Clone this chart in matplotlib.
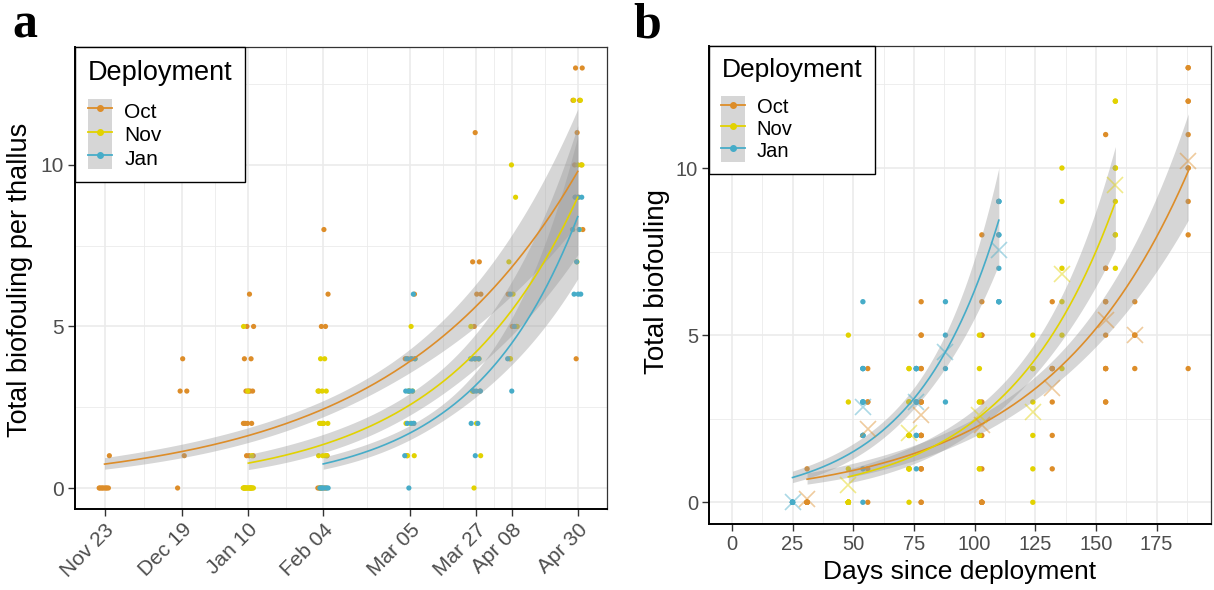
import numpy as np
import pandas as pd
import matplotlib
matplotlib.use("Agg")
import matplotlib.pyplot as plt
import matplotlib.dates as mdates
from matplotlib.lines import Line2D
from matplotlib.patches import Patch
from matplotlib.legend_handler import HandlerTuple
from matplotlib.ticker import FixedLocator, MultipleLocator

plt.rcParams["font.family"] = ["Liberation Sans", "DejaVu Sans"]

DEPLOYMENTS = ["Oct", "Nov", "Jan"]
COLORS = ["#DD8D29", "#E2D200", "#46ACC8"]
RIBBON = "#999999"

# sampling dates, days since deployment and biofouling counts per thallus
oct_dates = ["2018-11-23", "2018-12-19", "2019-01-10", "2019-02-04",
             "2019-03-05", "2019-03-27", "2019-04-08", "2019-04-30"]
oct_days = [31, 56, 78, 103, 132, 154, 166, 188]
oct_counts = [
    [0, 0, 0, 0, 0, 0, 0, 0, 1],
    [0, 1, 3, 3, 4],
    [0, 0, 1, 1, 1, 2, 2, 2, 2, 3, 3, 3, 3, 4, 4, 5, 5, 6],
    [0, 0, 0, 0, 0, 0, 1, 2, 3, 5, 5, 6, 8],
    [1, 2, 3, 4, 4, 4, 6],
    [3, 3, 4, 4, 4, 5, 6, 6, 7, 7, 11],
    [4, 5, 5, 6],
    [4, 8, 9, 10, 10, 11, 12, 12, 13, 13],
]

nov_dates = ["2019-01-10", "2019-02-04", "2019-03-05", "2019-03-27",
             "2019-04-08", "2019-04-30"]
nov_days = [48, 73, 102, 124, 136, 158]
nov_counts = [
    [0] * 14 + [1, 3, 5],
    [0, 1, 1, 1, 1, 2, 2, 2, 2, 3, 3, 3, 4, 4],
    [1, 1, 2, 2, 3, 3, 4, 5],
    [0, 1, 2, 3, 4, 4, 5],
    [4, 5, 6, 7, 9, 10],
    [7, 8, 8, 9, 10, 10, 12, 12],
]

jan_dates = ["2019-02-04", "2019-03-05", "2019-03-27", "2019-04-08",
             "2019-04-30"]
jan_days = [25, 54, 76, 88, 110]
jan_counts = [
    [0, 0, 0, 0, 0, 0],
    [0, 1, 2, 2, 2, 3, 3, 3, 3, 4, 4, 4, 6],
    [1, 2, 2, 3, 3, 3, 4, 4, 4, 4],
    [3, 4, 5, 6],
    [6, 6, 6, 7, 8, 8, 9, 9, 9],
]

# fitted log-linear trend: value at first / last sampling, and the
# half-width of the 95% band on the log scale (start, narrowest, end)
fit_date_start = [0.74, 0.77, 0.745]
fit_date_end = [9.8, 9.0, 8.4]
band_date = [(0.24, 0.09, 0.18), (0.30, 0.12, 0.22), (0.25, 0.11, 0.26)]

fit_days_start = [0.69, 0.76, 0.74]
fit_days_end = [9.9, 8.98, 8.44]
band_days = [(0.24, 0.10, 0.16), (0.27, 0.11, 0.17), (0.23, 0.10, 0.17)]

dates = [oct_dates, nov_dates, jan_dates]
days = [oct_days, nov_days, jan_days]
counts = [oct_counts, nov_counts, jan_counts]

TICK_GREY = "#4D4D4D"
GRID = "#EBEBEB"


def expand(lo, hi, mult=0.05):
    pad = (hi - lo) * mult
    return lo - pad, hi + pad


def trend(x0, x1, y0, y1, band, n=200):
    x = np.linspace(x0, x1, n)
    u = (x - x0) / (x1 - x0)
    mu = np.exp(np.log(y0) + u * (np.log(y1) - np.log(y0)))
    c0, cm, c1 = band
    d0 = np.sqrt(c0 ** 2 - cm ** 2)
    d1 = np.sqrt(c1 ** 2 - cm ** 2)
    uc = d0 / (d0 + d1)
    k = d0 + d1
    half = np.sqrt(cm ** 2 + (k * (u - uc)) ** 2)
    return x, mu, mu * np.exp(-half), mu * np.exp(half)


def spread(n, width, phase):
    i = np.arange(n)
    return width * (2 * ((i * 0.618034 + phase) % 1.0) - 1)


def style_axes(ax, tick_size):
    ax.set_facecolor("white")
    ax.grid(True, which="major", color=GRID, lw=1.2, zorder=0)
    ax.grid(True, which="minor", color=GRID, lw=0.6, zorder=0)
    ax.set_axisbelow(True)
    for side in ["left", "bottom"]:
        ax.spines[side].set_color("black")
        ax.spines[side].set_linewidth(1.4)
    for side in ["top", "right"]:
        ax.spines[side].set_color("#333333")
        ax.spines[side].set_linewidth(0.9)
    ax.tick_params(which="major", length=5, width=1, color="#333333",
                   labelsize=tick_size, labelcolor=TICK_GREY, pad=3)
    ax.tick_params(which="minor", length=0)
    ax.set_yticks([0, 5, 10])
    ax.yaxis.set_minor_locator(MultipleLocator(2.5))


def add_legend(ax, title_size, label_size, key_h):
    handles = []
    for c in COLORS:
        key_bg = Patch(facecolor=RIBBON, alpha=0.4, edgecolor="none")
        key_line = Line2D([], [], color=c, lw=1.3, marker="o", ms=4)
        handles.append((key_bg, key_line))
    leg = ax.legend(handles, DEPLOYMENTS, loc="upper left",
                    bbox_to_anchor=(0, 1), borderaxespad=0,
                    handler_map={tuple: HandlerTuple(ndivide=1, pad=0)},
                    title="Deployment", title_fontsize=title_size,
                    fontsize=label_size, handlelength=1.15,
                    handleheight=key_h, handletextpad=0.6,
                    labelspacing=0.0, borderpad=0.62,
                    fancybox=False, framealpha=1, edgecolor="black",
                    alignment="left")
    leg.get_frame().set_linewidth(1.0)
    # extra room between the title and the keys
    leg._legend_box.sep = 9.5
    leg.set_zorder(10)


def panel_dates(ax):
    tick_dates = pd.to_datetime(oct_dates)
    tick_nums = mdates.date2num(tick_dates)
    all_x = []
    for k in range(3):
        xs = mdates.date2num(pd.to_datetime(dates[k]))
        for j, vals in enumerate(counts[k]):
            x = xs[j] + spread(len(vals), 1.8, 0.17 * k + 0.05 * j)
            all_x.extend(x)
            ax.scatter(x, vals, s=14, color=COLORS[k], edgecolors="none",
                       zorder=2)
    for k in range(3):
        xs = mdates.date2num(pd.to_datetime(dates[k]))
        x, mu, lo, hi = trend(xs[0], xs[-1], fit_date_start[k],
                              fit_date_end[k], band_date[k])
        ax.fill_between(x, lo, hi, color=RIBBON, alpha=0.4, lw=0, zorder=3)
        ax.plot(x, mu, color=COLORS[k], lw=1.2, zorder=4)

    ax.set_xlim(*expand(min(all_x), max(all_x)))
    ax.set_ylim(*expand(0, 13))
    ax.xaxis.set_major_locator(FixedLocator(tick_nums))
    ax.xaxis.set_minor_locator(FixedLocator((tick_nums[:-1] + tick_nums[1:]) / 2))
    ax.xaxis.set_major_formatter(mdates.DateFormatter("%b %d"))
    style_axes(ax, 15)
    for lab in ax.get_xticklabels():
        lab.set_rotation(45)
        lab.set_ha("right")
        lab.set_va("top")
        lab.set_rotation_mode("anchor")
    add_legend(ax, 19.5, 15, 1.35)


def panel_days(ax):
    for k in range(3):
        for j, vals in enumerate(counts[k]):
            ax.scatter([days[k][j]] * len(vals), vals, s=15, color=COLORS[k],
                       edgecolors="none", zorder=2)
    for k in range(3):
        d = days[k]
        x, mu, lo, hi = trend(d[0], d[-1], fit_days_start[k],
                              fit_days_end[k], band_days[k])
        ax.fill_between(x, lo, hi, color=RIBBON, alpha=0.4, lw=0, zorder=3)
        ax.plot(x, mu, color=COLORS[k], lw=1.2, zorder=4)
        means = [np.mean(v) for v in counts[k]]
        ax.plot(d, means, ls="none", marker="x", ms=11, mew=1.2,
                color=COLORS[k], alpha=0.45, zorder=5)

    ax.set_xlim(*expand(0, max(oct_days)))
    ax.set_ylim(*expand(0, 13))
    ax.set_xticks(np.arange(0, 176, 25))
    ax.xaxis.set_minor_locator(MultipleLocator(12.5))
    style_axes(ax, 14.5)
    add_legend(ax, 19, 14.5, 1.3)


def main():
    fig = plt.figure(figsize=(12.14, 5.9), dpi=100)
    W, H = 1214, 590
    ax_a = fig.add_axes([75 / W, 1 - 509 / H, 532 / W, 462 / H])
    ax_b = fig.add_axes([709 / W, 1 - 524 / H, 502 / W, 478 / H])

    panel_dates(ax_a)
    panel_days(ax_b)

    fig.text(20 / W, 1 - 280 / H, "Total biofouling per thallus",
             rotation=90, ha="center", va="center", fontsize=19.5)
    fig.text(657 / W, 1 - 282 / H, "Total biofouling",
             rotation=90, ha="center", va="center", fontsize=20)
    fig.text(960 / W, 1 - 572 / H, "Days since deployment",
             ha="center", va="center", fontsize=19)

    for x, lab in [(12, "a"), (633, "b")]:
        fig.text(x / W, 1 - 38 / H, lab, fontsize=36, fontweight="bold",
                 family="Liberation Serif", va="baseline", ha="left")

    fig.savefig("out.png", dpi=100)
    plt.close(fig)


if __name__ == "__main__":
    main()
